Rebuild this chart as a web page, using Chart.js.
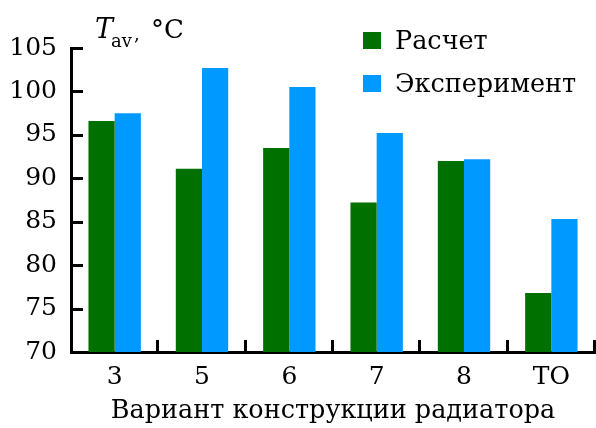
<!DOCTYPE html>
<html>
<head>
<meta charset="utf-8">
<script src="https://cdn.jsdelivr.net/npm/chart.js@4/dist/chart.umd.min.js"></script>
<style>
  html, body { margin: 0; padding: 0; background: #fff; }
  #wrap { width: 596px; height: 428px; position: relative; }
</style>
</head>
<body>
<div id="wrap"><canvas id="chart"></canvas></div>
<script>
const categories = ["3", "5", "6", "7", "8", "ТО"];
const calcValues = [96.6, 91.1, 93.5, 87.2, 92.0, 76.8];
const expValues = [97.5, 102.7, 100.5, 95.2, 92.2, 85.3];
const yTicks = [70, 75, 80, 85, 90, 95, 100, 105];

const serif = "'DejaVu Serif', 'Liberation Serif', serif";

// inward tick marks, legend and axis name drawn over the chart
const extras = {
    id: "extras",
    afterDraw(chart) {
        const ctx = chart.ctx;
        const x = chart.scales.x;
        const y = chart.scales.y;
        const area = chart.chartArea;
        ctx.save();
        ctx.strokeStyle = "#000";
        ctx.lineWidth = 3;
        yTicks.forEach(v => {
            const py = Math.round(y.getPixelForValue(v)) + 0.5;
            ctx.beginPath();
            ctx.moveTo(area.left, py);
            ctx.lineTo(area.left + 12, py);
            ctx.stroke();
        });
        const half = (x.getPixelForValue(1) - x.getPixelForValue(0)) / 2;
        for (let i = 0; i < categories.length; i++) {
            const px = Math.round(x.getPixelForValue(i) + half) - 0.5;
            ctx.beginPath();
            ctx.moveTo(px, area.bottom);
            ctx.lineTo(px, area.bottom - 12);
            ctx.stroke();
        }

        ctx.fillStyle = "#000";
        ctx.textBaseline = "alphabetic";
        ctx.textAlign = "left";
        ctx.font = "italic 27px " + serif;
        ctx.fillText("T", 95, 38);
        ctx.font = "18px " + serif;
        ctx.fillText("av", 111, 47);
        ctx.fillText(",", 134, 40);
        ctx.font = "26px " + serif;
        ctx.fillText("°C", 151, 38);

        chart.data.datasets.forEach((ds, i) => {
            const top = 32 + i * 43;
            ctx.fillStyle = ds.backgroundColor;
            ctx.fillRect(363, top, 18, 17);
            ctx.fillStyle = "#000";
            ctx.font = "25.5px " + serif;
            ctx.fillText(ds.label, 395, top + 17);
        });
        ctx.restore();
    }
};

new Chart("chart", {
    type: "bar",
    data: {
        labels: categories,
        datasets: [
            {
                label: "Расчет",
                data: calcValues,
                backgroundColor: "#007000",
                barPercentage: 1,
                categoryPercentage: 0.6
            },
            {
                label: "Эксперимент",
                data: expValues,
                backgroundColor: "#0099ff",
                barPercentage: 1,
                categoryPercentage: 0.6
            }
        ]
    },
    options: {
        responsive: true,
        maintainAspectRatio: false,
        animation: false,
        layout: { padding: { top: 48, right: 1, left: 0, bottom: 0 } },
        plugins: {
            legend: { display: false },
            tooltip: { enabled: false }
        },
        scales: {
            x: {
                grid: { display: false, drawTicks: false },
                border: { display: true, color: "#000", width: 3 },
                ticks: { color: "#000", font: { family: serif, size: 25 }, padding: 10, maxRotation: 0 },
                title: {
                    display: true,
                    text: "Вариант конструкции радиатора",
                    color: "#000",
                    font: { family: serif, size: 25.5 },
                    padding: { top: 0, bottom: 1 }
                },
                afterFit(scale) { scale.height = 76; }
            },
            y: {
                min: 70,
                max: 105,
                grid: { display: false, drawTicks: false },
                border: { display: true, color: "#000", width: 3 },
                ticks: {
                    stepSize: 5,
                    color: "#000",
                    font: { family: serif, size: 25 },
                    padding: 14
                },
                afterFit(scale) { scale.width = 71; }
            }
        }
    },
    plugins: [extras]
});
</script>
</body>
</html>
